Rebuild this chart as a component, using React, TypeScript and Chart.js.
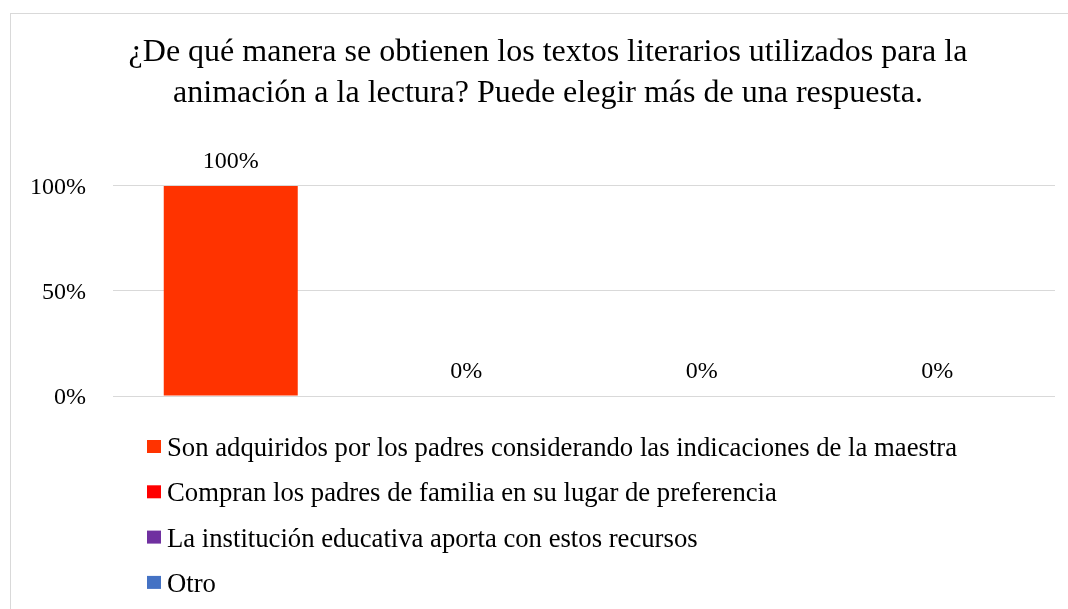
import React, { useEffect, useRef } from "react";
import { Chart, registerables } from "chart.js";

Chart.register(...registerables);

const TITLE_LINES = [
  "¿De qué manera se obtienen los textos literarios utilizados para la",
  "animación a la lectura? Puede elegir más de una respuesta.",
];
const CATEGORIES = [
  "Son adquiridos por los padres considerando las indicaciones de la maestra",
  "Compran los padres de familia en su lugar de preferencia",
  "La institución educativa aporta con estos recursos",
  "Otro",
];
const VALUES = [1, 0, 0, 0];
const COLORS = ["#FF3300", "#FF0000", "#7030A0", "#4472C4"];
const Y_TICKS = [0, 0.5, 1];

const FONT_FAMILY = '"Liberation Serif", "Times New Roman", serif';
const TEXT_COLOR = "#000000";

const pct = (v: number) => `${Math.round(v * 100)}%`;

const valueLabelPlugin = {
  id: "valueLabels",
  afterDatasetsDraw(chart: any) {
    const ctx = chart.ctx;
    const meta = chart.getDatasetMeta(0);
    const data = chart.data.datasets[0].data as number[];
    ctx.save();
    ctx.font = `24px ${FONT_FAMILY}`;
    ctx.fillStyle = TEXT_COLOR;
    ctx.textAlign = "center";
    ctx.textBaseline = "alphabetic";
    meta.data.forEach((bar: any, i: number) => {
      ctx.fillText(pct(data[i]), bar.x, bar.y - 18);
    });
    ctx.restore();
  },
};

const verticalLegendPlugin = {
  id: "verticalLegend",
  afterDraw(chart: any) {
    const ctx = chart.ctx;
    const area = chart.chartArea;
    const labels = chart.data.labels as string[];
    const colors = chart.data.datasets[0].backgroundColor as string[];
    ctx.save();
    ctx.font = `26.7px ${FONT_FAMILY}`;
    ctx.textAlign = "left";
    ctx.textBaseline = "alphabetic";
    labels.forEach((label, i) => {
      const baseline = area.bottom + 60 + i * 45.3;
      ctx.fillStyle = colors[i];
      ctx.fillRect(area.left + 34, baseline - 16, 14, 13);
      ctx.fillStyle = TEXT_COLOR;
      ctx.fillText(label, area.left + 54, baseline);
    });
    ctx.restore();
  },
};

export default function App() {
  const canvasRef = useRef<HTMLCanvasElement | null>(null);

  useEffect(() => {
    if (!canvasRef.current) return;
    const chart = new Chart(canvasRef.current, {
      type: "bar",
      data: {
        labels: CATEGORIES,
        datasets: [
          {
            data: VALUES,
            backgroundColor: COLORS,
            borderWidth: 0,
            categoryPercentage: 0.569,
            barPercentage: 1,
            yAxisID: "y",
          },
        ],
      },
      options: {
        animation: false,
        responsive: false,
        devicePixelRatio: 1,
        layout: { padding: { left: 0, right: 0, top: 0, bottom: 213 } },
        plugins: {
          legend: { display: false },
          tooltip: { enabled: false },
          title: {
            display: true,
            text: TITLE_LINES,
            color: TEXT_COLOR,
            font: { family: FONT_FAMILY, size: 32, weight: "normal", lineHeight: 1.28 },
            padding: { top: 19, bottom: 72 },
          },
        },
        scales: {
          x: {
            display: false,
          },
          y: {
            position: "left",
            min: 0,
            max: 1,
            afterBuildTicks(scale: any) {
              scale.ticks = Y_TICKS.map((v) => ({ value: v }));
            },
            afterFit(scale: any) {
              scale.width = 103;
            },
            ticks: {
              padding: 27,
              labelOffset: 2,
              color: TEXT_COLOR,
              font: { family: FONT_FAMILY, size: 24 },
              callback: (v: any) => pct(Number(v)),
            },
            grid: { color: "#D9D9D9", drawTicks: false, lineWidth: 1 },
            border: { display: false },
          },
          yRight: {
            position: "right",
            min: 0,
            max: 1,
            afterFit(scale: any) {
              scale.width = 31;
            },
            ticks: { display: false },
            grid: { display: false, drawTicks: false },
            border: { display: false },
          },
        },
      },
      plugins: [valueLabelPlugin, verticalLegendPlugin],
    });
    return () => chart.destroy();
  }, []);

  return (
    <div
      style={{
        position: "fixed",
        left: 0,
        top: 0,
        width: 1068,
        height: 609,
        overflow: "hidden",
        background: "#ffffff",
      }}
    >
      <div
        style={{
          position: "absolute",
          left: 10,
          top: 13,
          width: 1100,
          height: 700,
          border: "1px solid #D9D9D9",
          boxSizing: "border-box",
        }}
      />
      <canvas
        ref={canvasRef}
        width={1076}
        height={596}
        style={{ position: "absolute", left: 10, top: 13, width: 1076, height: 596 }}
      />
    </div>
  );
}
